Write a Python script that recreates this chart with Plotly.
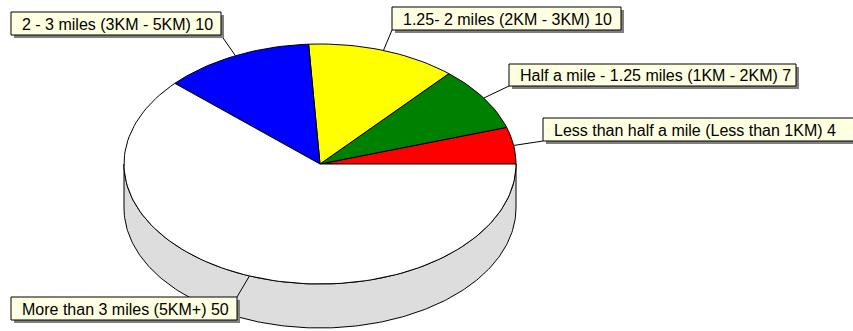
import numpy as np
import plotly.graph_objects as go

# Distance categories and counts
categories = [
    "Less than half a mile (Less than 1KM)",
    "Half a mile - 1.25 miles (1KM - 2KM)",
    "1.25- 2 miles (2KM - 3KM)",
    "2 - 3 miles (3KM - 5KM)",
    "More than 3 miles (5KM+)",
]
values = [4, 7, 10, 10, 50]
colors = ["#FF0000", "#008000", "#FFFF00", "#0000FF", "#FFFFFF"]

# Pie geometry (pixel space, y grows downward)
W, H = 853, 331
CX, CY = 320, 164
RX, RY = 196, 120
DEPTH = 44
SIDE_COLOR = "#DDDDDD"

# Callout boxes: left, top, width, height, corner the leader attaches to
boxes = [
    (543, 118, 312, 23, "bl"),
    (509, 64, 287, 22, "bl"),
    (392, 7, 229, 23, "bl"),
    (11, 12, 210, 23, "br"),
    (11, 297, 226, 23, "tr"),
]


def ell(t, dy=0.0):
    return CX + RX * np.cos(t), CY - RY * np.sin(t) + dy


fig = go.Figure()

# Visible front rim of the disc (angles pi..2pi)
t = np.linspace(np.pi, 2 * np.pi, 200)
xt, yt = ell(t)
xb, yb = ell(t[::-1], DEPTH)
fig.add_trace(go.Scatter(
    x=np.concatenate([xt, xb, xt[:1]]), y=np.concatenate([yt, yb, yt[:1]]),
    mode="lines", fill="toself", fillcolor=SIDE_COLOR,
    line=dict(color="black", width=1), hoverinfo="skip", showlegend=False))

total = float(sum(values))
start = 0.0
mids = []
for cat, v, c in zip(categories, values, colors):
    a0 = start
    a1 = start + 2 * np.pi * v / total
    tt = np.linspace(a0, a1, max(int(200 * v / total), 8))
    ax, ay = ell(tt)
    fig.add_trace(go.Scatter(
        x=np.concatenate([[CX], ax, [CX]]), y=np.concatenate([[CY], ay, [CY]]),
        mode="lines", fill="toself", fillcolor=c,
        line=dict(color="black", width=1), hoverinfo="skip", showlegend=False,
        name=cat))
    mids.append((a0 + a1) / 2)
    start = a1

shapes = []
annotations = []
for cat, v, m, (bx, by, bw, bh, corner) in zip(categories, values, mids, boxes):
    px, py = ell(m)
    ex = bx if corner[1] == "l" else bx + bw
    ey = by if corner[0] == "t" else by + bh
    shapes.append(dict(type="line", x0=px, y0=py, x1=ex, y1=ey,
                       xref="x", yref="y", line=dict(color="black", width=1)))
    # drop shadow
    shapes.append(dict(type="rect", x0=bx + 3, y0=by + 3, x1=bx + bw + 3, y1=by + bh + 3,
                       xref="x", yref="y", fillcolor="#7F7F7F", line=dict(width=0)))
    shapes.append(dict(type="rect", x0=bx, y0=by, x1=bx + bw, y1=by + bh,
                       xref="x", yref="y", fillcolor="#FFFFE1",
                       line=dict(color="black", width=1)))
    annotations.append(dict(
        x=bx + 9, y=by + bh / 2 + 0.5, xref="x", yref="y", xanchor="left", yanchor="middle",
        text=f"{cat} {v}", showarrow=False,
        font=dict(family="Liberation Sans, Arial, sans-serif", size=16, color="black")))

fig.update_layout(
    width=W, height=H, margin=dict(l=0, r=0, t=0, b=0),
    paper_bgcolor="white", plot_bgcolor="white",
    xaxis=dict(range=[0, W], visible=False, fixedrange=True),
    yaxis=dict(range=[H, 0], visible=False, fixedrange=True),
    shapes=shapes, annotations=annotations, showlegend=False,
)

fig.write_html("out.html")
